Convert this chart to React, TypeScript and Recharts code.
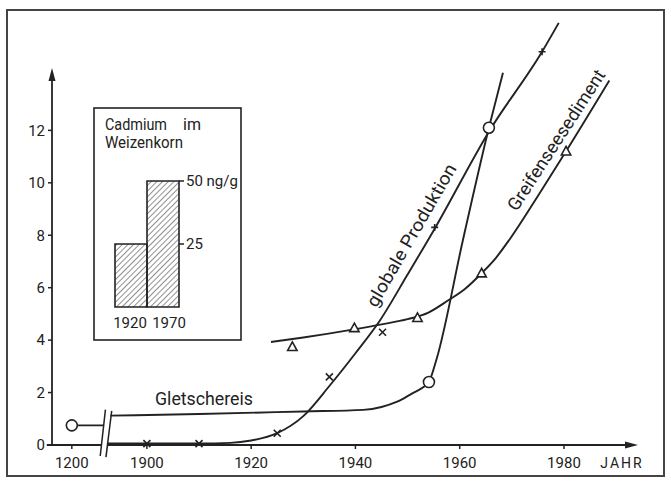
import React from 'react';
import {
  LineChart,
  Line,
  XAxis,
  YAxis,
  ReferenceLine,
  ReferenceDot,
  BarChart,
  Bar
} from 'recharts';

// the x axis is broken: 1200 sits left of the cut, everything else is real years
const OLD_YEAR = 1200;
const OLD_YEAR_POS = 1885.6;
const BREAK_POS = 1892.1;
const X_MIN = 1881.8;
const X_MAX = 1994.2;
const Y_TOP = 16.4;
const Y_ARROW = 14.38;

const xTicks = [1200, 1900, 1920, 1940, 1960, 1980];
const yTicks = [0, 2, 4, 6, 8, 10, 12];

// Gletschereis
const glacierOld = [
  { year: 1200, value: 0.75 },
  { year: 1891.7, value: 0.75 }
];
const glacierCurve = [
  { year: 1893.0, value: 1.12 },
  { year: 1910, value: 1.18 },
  { year: 1930, value: 1.28 },
  { year: 1941.5, value: 1.34 },
  { year: 1945, value: 1.45 },
  { year: 1948, value: 1.65 },
  { year: 1951, value: 1.98 },
  { year: 1953, value: 2.2 },
  { year: 1954.1, value: 2.4 },
  { year: 1955.6, value: 3.3 },
  { year: 1960.6, value: 7.8 },
  { year: 1965.6, value: 12.1 },
  { year: 1968.3, value: 14.2 }
];
const glacierPoints = [
  { year: 1200, value: 0.75 },
  { year: 1954.1, value: 2.4 },
  { year: 1965.6, value: 12.1 }
];

// globale Produktion
const productionCurve = [
  { year: 1892.5, value: 0.06 },
  { year: 1910, value: 0.06 },
  { year: 1916, value: 0.08 },
  { year: 1920, value: 0.17 },
  { year: 1925, value: 0.45 },
  { year: 1930, value: 1.1 },
  { year: 1935, value: 2.25 },
  { year: 1940, value: 3.5 },
  { year: 1944.7, value: 4.75 },
  { year: 1950, value: 6.5 },
  { year: 1955.2, value: 8.25 },
  { year: 1965.6, value: 11.95 },
  { year: 1975.8, value: 15.0 },
  { year: 1979, value: 16.1 }
];
const productionPoints = [
  { year: 1900, value: 0.05 },
  { year: 1910, value: 0.05 },
  { year: 1925, value: 0.45 },
  { year: 1935, value: 2.6 },
  { year: 1945.2, value: 4.3 },
  { year: 1955.2, value: 8.3 },
  { year: 1975.8, value: 15.0 }
];

// Greifenseesediment
const sedimentCurve = [
  { year: 1923.8, value: 3.93 },
  { year: 1930, value: 4.1 },
  { year: 1940, value: 4.42 },
  { year: 1945, value: 4.6 },
  { year: 1950, value: 4.8 },
  { year: 1954, value: 5.05 },
  { year: 1957.9, value: 5.53 },
  { year: 1961, value: 5.95 },
  { year: 1964.2, value: 6.55 },
  { year: 1967, value: 7.15 },
  { year: 1969.6, value: 7.85 },
  { year: 1975, value: 9.5 },
  { year: 1980.4, value: 11.2 },
  { year: 1988.7, value: 13.9 }
];
const sedimentPoints = [
  { year: 1927.9, value: 3.74 },
  { year: 1939.8, value: 4.46 },
  { year: 1951.9, value: 4.85 },
  { year: 1964.2, value: 6.55 },
  { year: 1980.4, value: 11.2 }
];

// inset: Cadmium im Weizenkorn (ng/g)
const cadmiumYears = ['1920', '1970'];
const cadmiumValues = [25, 50];
const cadmiumTicks = [25, 50];

const INK = '#222';
const FONT = 'Roboto, "DejaVu Sans", sans-serif';

const pos = (year: number) => (year === OLD_YEAR ? OLD_YEAR_POS : year);
const toXY = (arr: { year: number; value: number }[]) =>
  arr.map((d) => ({ x: pos(d.year), y: d.value }));

const circleDot = (p: any) => (
  <circle key={`c-${p.index}`} cx={p.cx} cy={p.cy} r={5.5} fill="#fff" stroke={INK} strokeWidth={1.6} />
);

const crossDot = (p: any) => {
  const s = 3.5;
  // the upper two marks are drawn upright
  const d =
    p.index >= 5
      ? `M${p.cx - s},${p.cy} L${p.cx + s},${p.cy} M${p.cx},${p.cy - s} L${p.cx},${p.cy + s}`
      : `M${p.cx - s},${p.cy - s} L${p.cx + s},${p.cy + s} M${p.cx - s},${p.cy + s} L${p.cx + s},${p.cy - s}`;
  return <path key={`x-${p.index}`} d={d} stroke={INK} strokeWidth={1.6} fill="none" />;
};

const triangleDot = (p: any) => (
  <path
    key={`t-${p.index}`}
    d={`M${p.cx},${p.cy - 5} L${p.cx - 4.7},${p.cy + 3.6} L${p.cx + 4.7},${p.cy + 3.6} Z`}
    fill="#fff"
    stroke={INK}
    strokeWidth={1.6}
  />
);

// the inset year labels sit a bit apart from each other
const InsetTick = (p: any) => (
  <text
    x={p.x + (p.index === 0 ? -1 : 6)}
    y={p.y}
    dy="0.71em"
    textAnchor="middle"
    fill={INK}
    fontSize={15}
    fontFamily={FONT}
  >
    {p.payload.value}
  </text>
);

const App = () => {
  const cadmiumData = cadmiumYears.map((year, i) => ({ year, value: cadmiumValues[i] }));
  const axisStroke = { stroke: INK, strokeWidth: 1.8 };

  return (
    <div style={{ position: 'fixed', left: 0, top: 0, width: 671, height: 482, background: '#fff' }}>
      <LineChart width={671} height={482} margin={{ top: 15, right: 33, bottom: 7, left: 0 }}>
        <XAxis
          type="number"
          dataKey="x"
          domain={[X_MIN, X_MAX]}
          ticks={xTicks.map(pos)}
          interval={0}
          tickFormatter={(_v: number, i: number) => String(xTicks[i])}
          axisLine={false}
          tickLine={{ stroke: INK, strokeWidth: 1.5 }}
          tickSize={4}
          tickMargin={8}
          height={30}
          tick={{ fill: INK, fontSize: 15, fontFamily: FONT }}
        />
        <YAxis
          type="number"
          domain={[0, Y_TOP]}
          ticks={yTicks}
          interval={0}
          axisLine={false}
          tickLine={{ stroke: INK, strokeWidth: 1.5 }}
          tickSize={4}
          tickMargin={3}
          width={52}
          tick={{ fill: INK, fontSize: 15, fontFamily: FONT }}
        />

        {/* axes with the cut */}
        <ReferenceLine segment={[{ x: X_MIN, y: 0 }, { x: X_MIN, y: Y_ARROW - 0.3 }]} {...axisStroke} ifOverflow="visible" />
        <ReferenceLine segment={[{ x: X_MIN - 1, y: 0 }, { x: BREAK_POS - 0.8, y: 0 }]} {...axisStroke} ifOverflow="visible" />
        <ReferenceLine segment={[{ x: BREAK_POS + 0.3, y: 0 }, { x: X_MAX - 1, y: 0 }]} {...axisStroke} ifOverflow="visible" />
        <ReferenceLine
          segment={[{ x: BREAK_POS - 1.05, y: -0.42 }, { x: BREAK_POS - 0.05, y: 1.35 }]}
          stroke={INK}
          strokeWidth={1.5}
          ifOverflow="visible"
        />
        <ReferenceLine
          segment={[{ x: BREAK_POS + 0.05, y: -0.46 }, { x: BREAK_POS + 1.15, y: 1.3 }]}
          stroke={INK}
          strokeWidth={1.5}
          ifOverflow="visible"
        />
        <ReferenceDot
          x={X_MAX}
          y={0}
          r={1}
          ifOverflow="visible"
          shape={(p: any) => <path d={`M${p.cx},${p.cy} l-13,-3.5 l0,7 Z`} fill={INK} />}
        />
        <ReferenceDot
          x={X_MIN}
          y={Y_ARROW}
          r={1}
          ifOverflow="visible"
          shape={(p: any) => <path d={`M${p.cx},${p.cy} l-3.5,13 l7,0 Z`} fill={INK} />}
        />

        <Line data={toXY(glacierOld)} dataKey="y" stroke={INK} strokeWidth={1.9} dot={false} activeDot={false} isAnimationActive={false} />
        <Line data={toXY(glacierCurve)} dataKey="y" type="monotone" stroke={INK} strokeWidth={1.9} dot={false} activeDot={false} isAnimationActive={false} />
        <Line data={toXY(productionCurve)} dataKey="y" type="monotone" stroke={INK} strokeWidth={1.9} dot={false} activeDot={false} isAnimationActive={false} />
        <Line data={toXY(sedimentCurve)} dataKey="y" type="monotone" stroke={INK} strokeWidth={1.9} dot={false} activeDot={false} isAnimationActive={false} />

        <Line data={toXY(productionPoints)} dataKey="y" stroke="none" dot={crossDot} activeDot={false} isAnimationActive={false} />
        <Line data={toXY(sedimentPoints)} dataKey="y" stroke="none" dot={triangleDot} activeDot={false} isAnimationActive={false} />
        <Line data={toXY(glacierPoints)} dataKey="y" stroke="none" dot={circleDot} activeDot={false} isAnimationActive={false} />
      </LineChart>

      {/* inset bar chart */}
      <div style={{ position: 'absolute', left: 94, top: 108 }}>
        <BarChart
          width={147}
          height={232}
          data={cadmiumData}
          barCategoryGap={0}
          margin={{ top: 73, right: 0, bottom: 0, left: 21 }}
        >
          <defs>
            <pattern id="hatch" width="4" height="4" patternUnits="userSpaceOnUse" patternTransform="rotate(45)">
              <line x1="0" y1="0" x2="0" y2="4" stroke="#333" strokeWidth="1.1" />
            </pattern>
          </defs>
          <XAxis
            dataKey="year"
            axisLine={false}
            tickLine={false}
            height={33}
            tickMargin={4}
            interval={0}
            minTickGap={0}
            tick={InsetTick}
          />
          <YAxis
            orientation="right"
            domain={[0, 50]}
            ticks={cadmiumTicks}
            interval={0}
            width={62}
            axisLine={false}
            tickLine={{ stroke: INK, strokeWidth: 1.5 }}
            tickSize={5}
            tickMargin={2}
            tickFormatter={(v: number) => (v === cadmiumTicks[cadmiumTicks.length - 1] ? `${v} ng/g` : String(v))}
            tick={{ fill: INK, fontSize: 15, fontFamily: FONT }}
          />
          <Bar dataKey="value" fill="url(#hatch)" stroke={INK} strokeWidth={1.6} isAnimationActive={false} />
        </BarChart>
      </div>

      {/* frames and curve labels */}
      <svg
        width={671}
        height={482}
        style={{ position: 'absolute', left: 0, top: 0, pointerEvents: 'none' }}
        fontFamily={FONT}
        fill={INK}
      >
        <rect x={7} y={10} width={657} height={466} fill="none" stroke="#444" strokeWidth={2} />
        <rect x={94} y={108} width={147} height={232} fill="none" stroke={INK} strokeWidth={1.6} />

        <text x={105} y={130} fontSize={16} textLength={62} lengthAdjust="spacingAndGlyphs">Cadmium</text>
        <text x={183} y={130} fontSize={16}>im</text>
        <text x={105} y={148} fontSize={16} textLength={78} lengthAdjust="spacingAndGlyphs">Weizenkorn</text>

        <text x={204} y={398} fontSize={18} textAnchor="middle" dominantBaseline="central" textLength={98} lengthAdjust="spacingAndGlyphs">
          Gletschereis
        </text>
        <text
          transform="translate(411,235) rotate(-60)"
          fontSize={18}
          textAnchor="middle"
          dominantBaseline="central"
          textLength={162}
          lengthAdjust="spacingAndGlyphs"
        >
          globale Produktion
        </text>
        <text
          transform="translate(556,140) rotate(-57)"
          fontSize={18}
          textAnchor="middle"
          dominantBaseline="central"
          textLength={164}
          lengthAdjust="spacingAndGlyphs"
        >
          Greifenseesediment
        </text>
        <text x={622} y={463} fontSize={14} textAnchor="middle" dominantBaseline="central" letterSpacing={2}>
          JAHR
        </text>
      </svg>
    </div>
  );
};

export default App;
